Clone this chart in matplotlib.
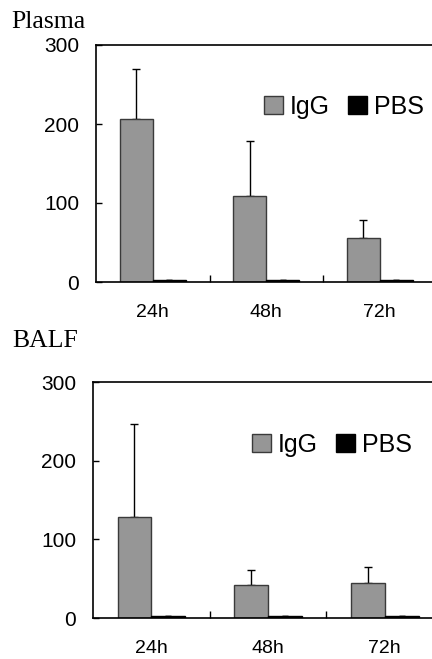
import matplotlib
matplotlib.use("Agg")
import matplotlib.pyplot as plt
import numpy as np

groups = ["24h", "48h", "72h"]
series = ["IgG", "PBS"]

plasma_igg = [206, 109, 56]
plasma_igg_err = [64, 69, 22]
plasma_pbs = [2, 2, 2]
plasma_pbs_err = [1, 1, 1]

balf_igg = [128, 42, 44]
balf_igg_err = [118, 19, 21]
balf_pbs = [2, 2, 2]
balf_pbs_err = [1, 1, 1]

yticks = [0, 100, 200, 300]

DPI = 100
fig = plt.figure(figsize=(4.32, 6.59), dpi=DPI)
W, H = 432, 659

def make_axes(left, top, bottom, gw):
    return fig.add_axes([left / W, 1 - bottom / H, 3 * gw / W, (bottom - top) / H])

panels = [
    dict(title="Plasma", ax=make_axes(96, 45, 282, 113.5),
         igg=plasma_igg, igge=plasma_igg_err, pbs=plasma_pbs, pbse=plasma_pbs_err,
         tx=11, ty=11, lx=424, ly=107),
    dict(title="BALF", ax=make_axes(93, 382, 618, 116.7),
         igg=balf_igg, igge=balf_igg_err, pbs=balf_pbs, pbse=balf_pbs_err,
         tx=12, ty=330, lx=412, ly=445),
]

x = np.arange(len(groups))
bw = 0.29
for p in panels:
    ax = p["ax"]
    ax.bar(x - bw / 2, p["igg"], bw, color="#969696", edgecolor="#3a3a3a", linewidth=1.0,
           label=series[0], zorder=2)
    ax.errorbar(x - bw / 2, p["igg"], yerr=[np.zeros(3), p["igge"]], fmt="none",
                ecolor="black", elinewidth=1.0, capsize=3, capthick=1.0, zorder=1)
    ax.bar(x + bw / 2, p["pbs"], bw, color="black", edgecolor="black", linewidth=1.0,
           label=series[1], zorder=2)
    ax.errorbar(x + bw / 2, p["pbs"], yerr=[np.zeros(3), p["pbse"]], fmt="none",
                ecolor="black", elinewidth=1.0, capsize=2, capthick=1.0, zorder=1)
    ax.set_xlim(-0.5, 2.5)
    ax.set_ylim(0, 300)
    ax.set_yticks(yticks)
    ax.set_yticklabels([str(v) for v in yticks], fontfamily="Liberation Sans", fontsize=15)
    ax.set_xticks(x)
    ax.set_xticklabels(groups, fontfamily="Liberation Sans", fontsize=14)
    ax.set_xticks([0.5, 1.5], minor=True)
    ax.tick_params(axis="x", which="major", length=0, pad=16)
    ax.tick_params(axis="x", which="minor", direction="in", length=5, width=1)
    ax.tick_params(axis="y", direction="in", length=4, width=1, pad=12)
    for s in ["left", "bottom", "top"]:
        ax.spines[s].set_linewidth(1.2)
    ax.spines["right"].set_visible(False)
    fig.text(p["tx"] / W, 1 - p["ty"] / H, p["title"], fontfamily="Liberation Serif",
             fontsize=18.5, ha="left", va="top")
    ax.legend(loc="center right", bbox_to_anchor=(p["lx"] / W, 1 - p["ly"] / H),
              bbox_transform=fig.transFigure, frameon=False, ncol=2,
              prop={"family": "Liberation Sans", "size": 18}, borderpad=0,
              borderaxespad=0, handlelength=0.75, handleheight=0.75, handletextpad=0.3,
              columnspacing=0.7)

fig.savefig("out.png", dpi=DPI)
